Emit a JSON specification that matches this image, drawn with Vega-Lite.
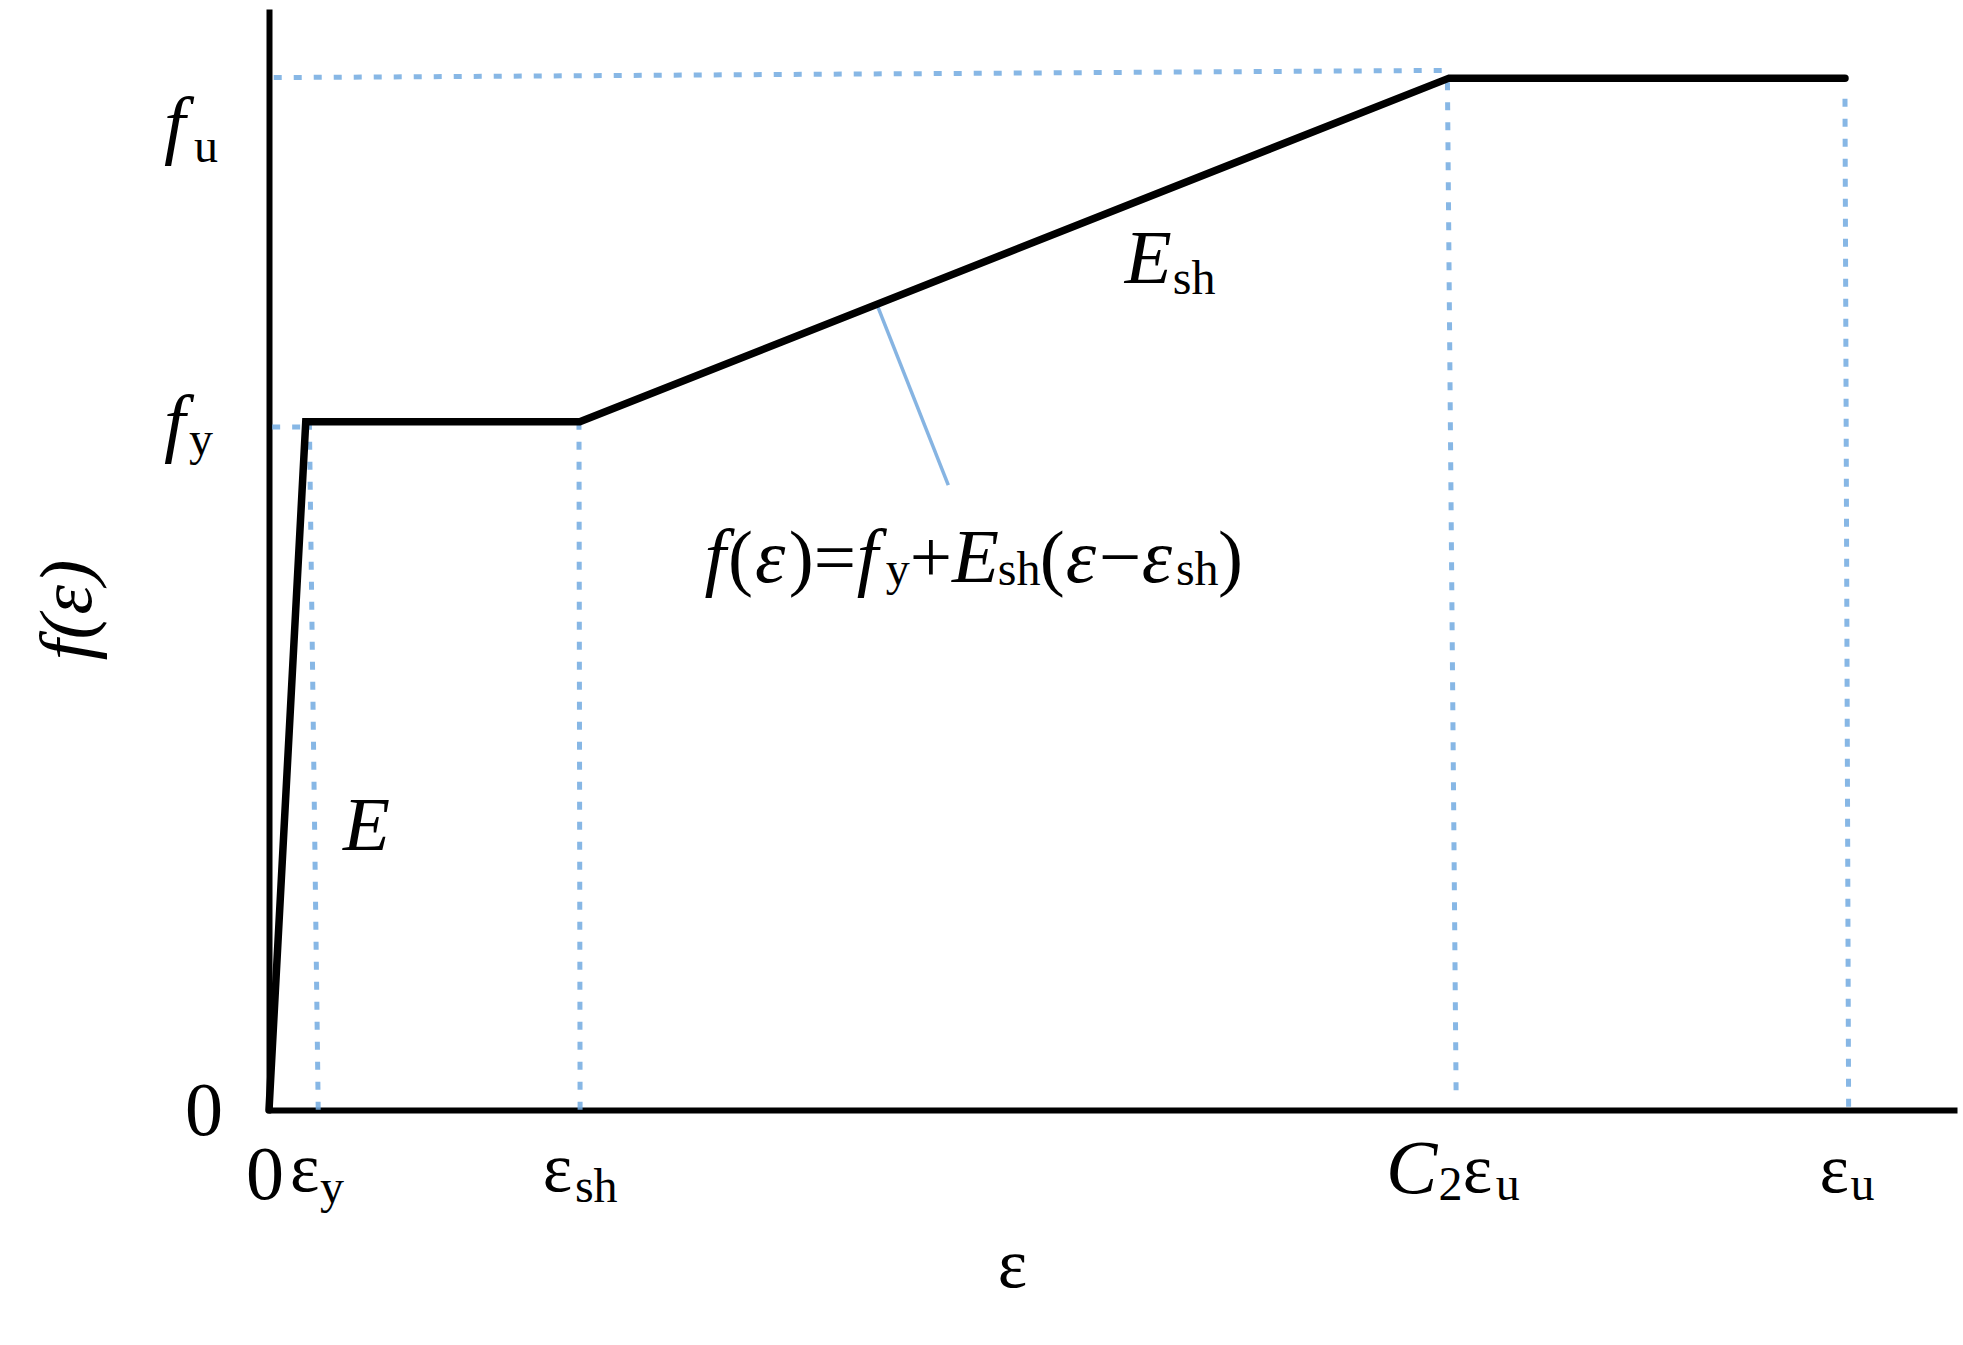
{
  "$schema": "https://vega.github.io/schema/vega-lite/v6.json",
  "width": 1688,
  "height": 1101,
  "autosize": {"type": "none"},
  "padding": {"left": 269, "top": 9, "right": 6, "bottom": 235},
  "background": "white",
  "config": {"view": {"stroke": null}, "font": "Liberation Serif"},
  "datasets": {
    "curve": [
      {"x": 0, "y": 0},
      {"x": 2.33, "y": 66.7},
      {"x": 19.7, "y": 66.7},
      {"x": 74.8, "y": 100},
      {"x": 99.9, "y": 100}
    ],
    "guides": [
      {"g": "fu", "x": 0.3, "y": 100.05, "x2": 74.6, "y2": 100.75},
      {"g": "fy", "x": 0.2, "y": 66.2, "x2": 2.5, "y2": 66.2},
      {"g": "ey", "x": 2.56, "y": 66.7, "x2": 3.12, "y2": 0},
      {"g": "esh", "x": 19.65, "y": 66.7, "x2": 19.72, "y2": 0},
      {"g": "c2eu", "x": 74.7, "y": 99.6, "x2": 75.25, "y2": 1.5},
      {"g": "eu", "x": 99.9, "y": 98.0, "x2": 100.13, "y2": 0}
    ],
    "leader": [
      {"x": 38.55, "y": 78.0, "x2": 43.06, "y2": 60.56}
    ],
    "labels": [
      {"kind": "var", "t": "f", "x": -6.65, "y": 93.07},
      {"kind": "var", "t": "f", "x": -6.65, "y": 64.2},
      {"kind": "var", "t": "E", "x": 4.69, "y": 25.19},
      {"kind": "var", "t": "E", "x": 54.25, "y": 80.14},
      {"kind": "var", "t": "C", "x": 70.8, "y": -8.04},
      {"kind": "var", "t": "f", "x": 27.6, "y": 51.16},
      {"kind": "var", "t": "ε", "x": 30.8, "y": 51.16},
      {"kind": "var", "t": "f", "x": 37.26, "y": 51.16},
      {"kind": "var", "t": "E", "x": 43.29, "y": 51.16},
      {"kind": "var", "t": "ε", "x": 50.51, "y": 51.16},
      {"kind": "var", "t": "ε", "x": 55.33, "y": 51.16},
      {"kind": "op", "t": "(", "x": 29.09, "y": 51.16},
      {"kind": "op", "t": ")=", "x": 32.95, "y": 51.16},
      {"kind": "op", "t": "+", "x": 40.62, "y": 51.16},
      {"kind": "op", "t": "(", "x": 48.86, "y": 51.16},
      {"kind": "op", "t": "−", "x": 52.6, "y": 51.16},
      {"kind": "op", "t": ")", "x": 60.15, "y": 51.16},
      {"kind": "sub", "t": "u", "x": -4.75, "y": 91.86},
      {"kind": "sub", "t": "y", "x": -5.07, "y": 63.5},
      {"kind": "sub", "t": "y", "x": 3.23, "y": -9.0},
      {"kind": "sub", "t": "sh", "x": 19.39, "y": -8.9},
      {"kind": "sub", "t": "2", "x": 74.14, "y": -8.72},
      {"kind": "sub", "t": "u", "x": 77.76, "y": -8.72},
      {"kind": "sub", "t": "u", "x": 100.25, "y": -8.72},
      {"kind": "sub", "t": "sh", "x": 57.29, "y": 79.07},
      {"kind": "sub", "t": "y", "x": 39.1, "y": 50.87},
      {"kind": "sub", "t": "sh", "x": 46.2, "y": 50.87},
      {"kind": "sub", "t": "sh", "x": 57.49, "y": 50.87},
      {"kind": "num", "t": "0", "x": -5.32, "y": -2.42},
      {"kind": "num", "t": "0", "x": -1.46, "y": -8.62},
      {"kind": "greek", "t": "ε", "x": 1.33, "y": -7.85},
      {"kind": "greek", "t": "ε", "x": 17.36, "y": -7.85},
      {"kind": "greek", "t": "ε", "x": 75.67, "y": -7.95},
      {"kind": "greek", "t": "ε", "x": 98.29, "y": -7.95},
      {"kind": "greek", "t": "ε", "x": 46.2, "y": -17.15},
      {"kind": "title", "t": "f(ε)", "x": -11.28, "y": 48.45}
    ]
  },
  "encoding": {
    "x": {"field": "x", "type": "quantitative", "scale": {"domain": [0, 107], "nice": false, "zero": false},
          "axis": {"domain": true, "domainColor": "black", "domainWidth": 6, "ticks": false, "labels": false, "grid": false, "title": null}},
    "y": {"field": "y", "type": "quantitative", "scale": {"domain": [0, 106.7], "nice": false, "zero": false},
          "axis": {"domain": true, "domainColor": "black", "domainWidth": 6, "ticks": false, "labels": false, "grid": false, "title": null}}
  },
  "layer": [
    {
      "data": {"name": "guides"},
      "mark": {"type": "rule", "color": "#72AAE0", "strokeWidth": 5, "strokeDash": [8, 12], "opacity": 0.85},
      "encoding": {"x2": {"field": "x2"}, "y2": {"field": "y2"}}
    },
    {
      "data": {"name": "leader"},
      "mark": {"type": "rule", "color": "#86B4E2", "strokeWidth": 3.5},
      "encoding": {"x2": {"field": "x2"}, "y2": {"field": "y2"}}
    },
    {
      "data": {"name": "curve"},
      "mark": {"type": "line", "color": "black", "strokeWidth": 7.5, "strokeCap": "round"},
      "encoding": {}
    },
    {
      "data": {"name": "labels"},
      "transform": [{"filter": "datum.kind === 'var'"}],
      "mark": {"type": "text", "font": "Liberation Serif", "fontStyle": "italic", "fontSize": 77, "align": "left", "baseline": "alphabetic", "color": "black"},
      "encoding": {"text": {"field": "t"}}
    },
    {
      "data": {"name": "labels"},
      "transform": [{"filter": "datum.kind === 'op'"}],
      "mark": {"type": "text", "font": "Liberation Serif", "fontSize": 75, "align": "left", "baseline": "alphabetic", "color": "black"},
      "encoding": {"text": {"field": "t"}}
    },
    {
      "data": {"name": "labels"},
      "transform": [{"filter": "datum.kind === 'sub'"}],
      "mark": {"type": "text", "font": "Liberation Serif", "fontSize": 48, "align": "left", "baseline": "alphabetic", "color": "black"},
      "encoding": {"text": {"field": "t"}}
    },
    {
      "data": {"name": "labels"},
      "transform": [{"filter": "datum.kind === 'num'"}],
      "mark": {"type": "text", "font": "Liberation Serif", "fontSize": 76, "align": "left", "baseline": "alphabetic", "color": "black"},
      "encoding": {"text": {"field": "t"}}
    },
    {
      "data": {"name": "labels"},
      "transform": [{"filter": "datum.kind === 'greek'"}],
      "mark": {"type": "text", "font": "Liberation Serif", "fontSize": 70, "align": "left", "baseline": "alphabetic", "color": "black"},
      "encoding": {"text": {"field": "t"}}
    },
    {
      "data": {"name": "labels"},
      "transform": [{"filter": "datum.kind === 'title'"}],
      "mark": {"type": "text", "font": "Liberation Serif", "fontStyle": "italic", "fontSize": 75, "align": "center", "baseline": "alphabetic", "angle": 270, "color": "black"},
      "encoding": {"text": {"field": "t"}}
    }
  ]
}
